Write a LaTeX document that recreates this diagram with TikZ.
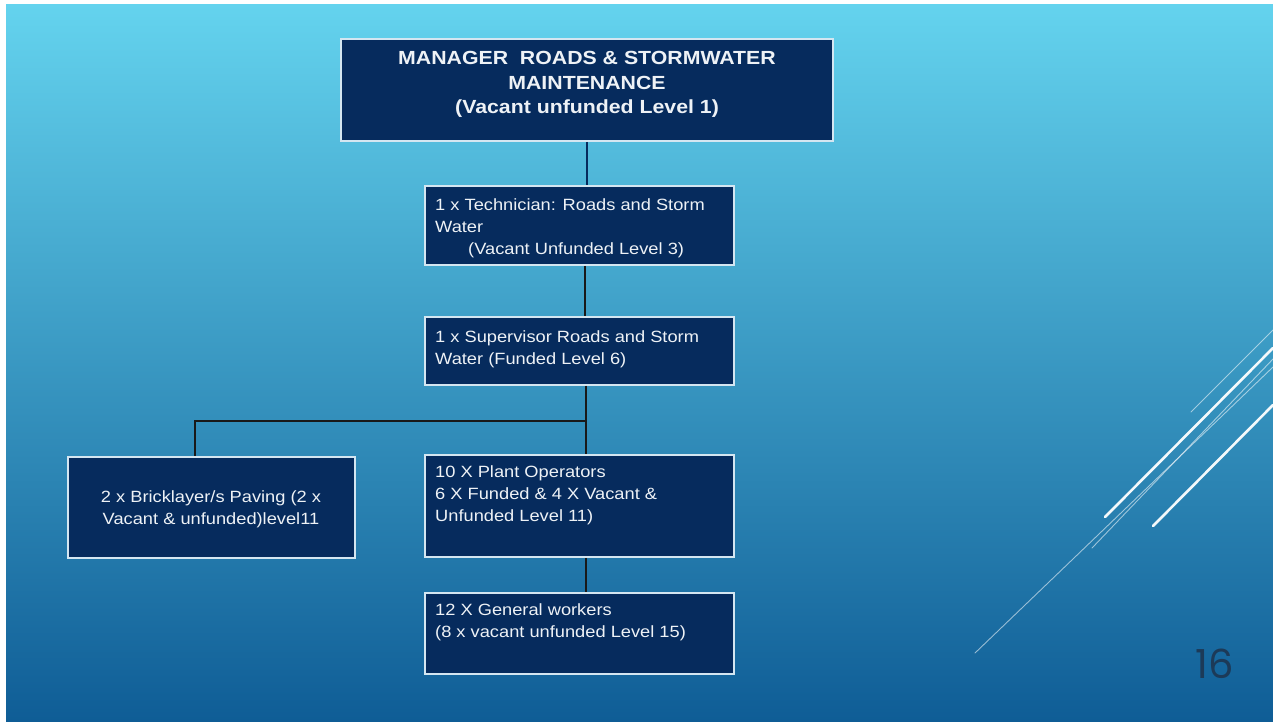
\documentclass[tikz,border=0pt]{standalone}
\usepackage{fontspec}
\setmainfont{Liberation Sans}[FakeStretch=1.12]
\newfontfamily\numfont{Poppins}
\definecolor{bgtop}{HTML}{64D3EE}
\definecolor{bgmid}{HTML}{2C94C6}
\definecolor{bgbot}{HTML}{0F5D96}
\definecolor{boxfill}{HTML}{062B5D}
\definecolor{boxline}{HTML}{D4E6F1}
\definecolor{txtcol}{HTML}{EEF2F6}
\definecolor{numcol}{HTML}{1C3A58}
\tikzset{
  orgbox/.style={draw=boxline, line width=1.6pt, fill=boxfill, inner sep=0pt},
  bodytxt/.style={text=txtcol, inner sep=0pt, align=left, anchor=north west,
     font=\fontsize{16.3}{22.3}\selectfont},
  conn/.style={draw=black!90, line width=2.2pt},
  deco/.style={draw=white, line cap=round},
}
\begin{document}
\begin{tikzpicture}[x=1pt,y=-1pt]
\useasboundingbox (0,0) rectangle (1273,721);
\fill[white] (0,0) rectangle (1273,721);
\shade[top color=bgtop, middle color=bgmid, bottom color=bgbot] (6,4) rectangle (1273,721);

% decorative lines
\draw[deco, line width=0.9pt, opacity=0.55] (975,653) -- (1273,367);
\draw[deco, line width=0.9pt, opacity=0.55] (1092,548) -- (1273,359);
\draw[deco, line width=0.9pt, opacity=0.55] (1191,412) -- (1273,330);
\draw[deco, line width=2.6pt, opacity=0.95] (1105,517) -- (1273,348);
\draw[deco, line width=2.6pt, opacity=0.95] (1153,526) -- (1273,405);

% boxes
\node[orgbox, minimum width=492, minimum height=102] (man) at (587,90) {};
\node[orgbox, minimum width=309, minimum height=79] (tech) at (579.5,225.5) {};
\node[orgbox, minimum width=309, minimum height=68] (sup) at (579.5,351) {};
\node[orgbox, minimum width=287, minimum height=101] (brick) at (211.5,507.5) {};
\node[orgbox, minimum width=309, minimum height=102] (plant) at (579.5,506) {};
\node[orgbox, minimum width=309, minimum height=81] (gen) at (579.5,633.5) {};

% connectors
\draw[draw=boxfill, line width=2.2pt] (man.south) -- (man.south |- tech.north);
\draw[conn] ([xshift=5.5pt]tech.south) -- ([xshift=5.5pt]sup.north);
\draw[conn] ([xshift=6.5pt]sup.south) -- ([xshift=6.5pt]plant.north);
\coordinate (bk) at ([xshift=-16.5pt]brick.north);
\draw[conn] ([xshift=6.5pt]sup.south) -- ++(0,35) -| (bk);
\draw[conn] ([xshift=6.5pt]plant.south) -- ([xshift=6.5pt]gen.north);

% texts
\node[text=txtcol, inner sep=0pt, align=center, anchor=north,
      font=\bfseries\fontsize{19}{24.5}\selectfont] (mant) at (587,51.3)
  {MANAGER\ \ ROADS \& STORMWATER\\MAINTENANCE\\(Vacant unfunded Level 1)};
\node[bodytxt] (techt) at (435,198.2)
  {1 x Technician: Roads and Storm\\Water\\\hspace*{33pt}(Vacant Unfunded Level 3)};
\node[bodytxt] (supt) at (435,330)
  {1 x Supervisor Roads and Storm\\Water (Funded Level 6)};
\node[bodytxt, align=center, anchor=north] (brickt) at (211,490)
  {2 x Bricklayer/s Paving (2 x\\Vacant \& unfunded)level11};
\node[bodytxt] (plantt) at (435,465)
  {10 X Plant Operators\\6 X Funded \& 4 X Vacant \&\\Unfunded Level 11)};
\node[bodytxt] (gent) at (435,603.3)
  {12 X General workers\\(8 x vacant unfunded Level 15)};

\node[text=numcol, inner sep=0pt, anchor=base, font=\numfont\fontsize{40}{40}\selectfont] (pnum) at (1215,678) {16};
\end{tikzpicture}
\end{document}
